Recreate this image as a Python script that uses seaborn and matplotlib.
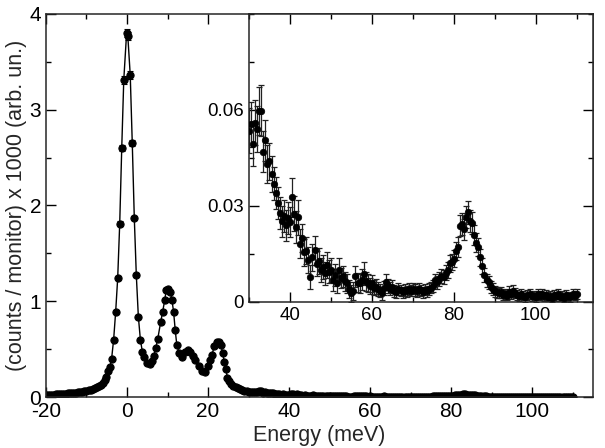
import numpy as np
import pandas as pd
import seaborn as sns
import matplotlib.pyplot as plt
from matplotlib.ticker import MultipleLocator, FixedLocator

# low-energy part of the spectrum (meV, counts/monitor x 1000)
energy_low = [
    -20.0, -19.5, -19.0, -18.5, -18.0, -17.5, -17.0, -16.5, -16.0, -15.5,
    -15.0, -14.5, -14.0, -13.5, -13.0, -12.5, -12.0, -11.5, -11.0, -10.5,
    -10.0, -9.5, -9.0, -8.5, -8.0, -7.5, -7.0, -6.5, -6.0, -5.5,
    -5.1, -4.6, -4.2, -3.8, -3.3, -2.8, -2.3, -1.8, -1.3, -0.8,
    -0.1, 0.2, 0.8, 1.3, 1.8, 2.3, 2.8, 3.3, 3.8, 4.3,
    4.9, 5.6, 6.1, 6.6, 7.1, 7.6, 8.3, 8.8, 9.3, 9.7,
    10.2, 10.7, 11.1, 11.5, 11.9, 12.3, 12.9, 13.6, 14.4, 15.0,
    15.6, 16.2, 16.9, 17.7, 18.5, 19.3, 19.9, 20.5, 21.0, 21.5,
    22.1, 22.6, 23.2, 23.6, 24.0, 24.4, 24.8, 25.2, 25.6, 26.2,
    26.8, 27.4, 28.0, 28.5, 29.0, 29.5,
]
intensity_low = [
    0.020, 0.021, 0.022, 0.024, 0.025, 0.027, 0.028, 0.030, 0.031, 0.033,
    0.035, 0.037, 0.039, 0.041, 0.044, 0.047, 0.050, 0.053, 0.057, 0.061,
    0.066, 0.071, 0.077, 0.084, 0.092, 0.101, 0.112, 0.126, 0.145, 0.175,
    0.21, 0.27, 0.31, 0.40, 0.60, 0.89, 1.24, 1.81, 2.60, 3.31,
    3.80, 3.77, 3.36, 2.65, 1.87, 1.27, 0.84, 0.60, 0.47, 0.42,
    0.36, 0.35, 0.38, 0.43, 0.51, 0.61, 0.78, 0.89, 1.01, 1.12,
    1.13, 1.10, 1.01, 0.89, 0.70, 0.54, 0.46, 0.42, 0.47, 0.49,
    0.47, 0.43, 0.39, 0.32, 0.27, 0.26, 0.32, 0.39, 0.44, 0.53,
    0.57, 0.57, 0.54, 0.46, 0.37, 0.29, 0.195, 0.165, 0.14, 0.12,
    0.10, 0.09, 0.08, 0.073, 0.067, 0.060,
]
error_low = [
    0.004, 0.004, 0.004, 0.004, 0.004, 0.004, 0.004, 0.004, 0.004, 0.004,
    0.004, 0.004, 0.004, 0.004, 0.004, 0.004, 0.004, 0.004, 0.005, 0.005,
    0.005, 0.005, 0.005, 0.005, 0.006, 0.006, 0.006, 0.007, 0.007, 0.008,
    0.008, 0.009, 0.010, 0.011, 0.014, 0.017, 0.020, 0.025, 0.030, 0.040,
    0.045, 0.045, 0.040, 0.032, 0.025, 0.020, 0.016, 0.013, 0.011, 0.011,
    0.010, 0.010, 0.010, 0.011, 0.012, 0.013, 0.015, 0.016, 0.018, 0.020,
    0.020, 0.019, 0.018, 0.016, 0.014, 0.012, 0.011, 0.011, 0.011, 0.012,
    0.011, 0.011, 0.010, 0.010, 0.009, 0.009, 0.010, 0.011, 0.012, 0.013,
    0.014, 0.014, 0.013, 0.012, 0.011, 0.010, 0.008, 0.008, 0.007, 0.007,
    0.006, 0.006, 0.006, 0.006, 0.006, 0.006,
]

# high-energy part, also shown in the inset
energy_high = [
    30.0, 30.5, 31.0, 31.5, 32.0, 32.5, 33.0, 33.5, 34.0, 34.5,
    35.0, 35.5, 36.0, 36.5, 37.0, 37.5, 38.0, 38.5, 39.0, 39.5,
    40.0, 40.5, 41.0, 41.5, 42.0, 42.5, 43.0, 43.5, 44.0, 44.5,
    45.0, 45.5, 46.0, 46.5, 47.0, 47.5, 48.0, 48.5, 49.0, 49.5,
    50.0, 50.5, 51.0, 51.5, 52.0, 52.5, 53.0, 53.5, 54.0, 54.5,
    55.0, 55.5, 56.0, 56.5, 57.0, 57.5, 58.0, 58.5, 59.0, 59.5,
    60.0, 60.5, 61.0, 61.5, 62.0, 62.5, 63.0, 63.5, 64.0, 64.5,
    65.0, 65.5, 66.0, 66.5, 67.0, 67.5, 68.0, 68.5, 69.0, 69.5,
    70.0, 70.5, 71.0, 71.5, 72.0, 72.5, 73.0, 73.5, 74.0, 74.5,
    75.0, 75.5, 76.0, 76.5, 77.0, 77.5, 78.0, 78.5, 79.0, 79.5,
    80.0, 80.5, 81.0, 81.5, 82.0, 82.5, 83.0, 83.5, 84.0, 84.5,
    85.0, 85.5, 86.0, 86.5, 87.0, 87.5, 88.0, 88.5, 89.0, 89.5,
    90.0, 90.5, 91.0, 91.5, 92.0, 92.5, 93.0, 93.5, 94.0, 94.5,
    95.0, 95.5, 96.0, 96.5, 97.0, 97.5, 98.0, 98.5, 99.0, 99.5,
    100.0, 100.5, 101.0, 101.5, 102.0, 102.5, 103.0, 103.5, 104.0, 104.5,
    105.0, 105.5, 106.0, 106.5, 107.0, 107.5, 108.0, 108.5, 109.0, 109.5,
    110.0,
]
intensity_high = [
    0.0535, 0.0555, 0.0493, 0.0560, 0.0540, 0.0597, 0.0598, 0.0470, 0.0505, 0.0431,
    0.0440, 0.0400, 0.0370, 0.0340, 0.0308, 0.0278, 0.0252, 0.0268, 0.0240, 0.0262,
    0.0250, 0.0327, 0.0276, 0.0234, 0.0265, 0.0182, 0.0200, 0.0155, 0.0160, 0.0131,
    0.0079, 0.0140, 0.0162, 0.0120, 0.0128, 0.0100, 0.0110, 0.0090, 0.0116, 0.0095,
    0.0100, 0.0069, 0.0085, 0.0060, 0.0100, 0.0075, 0.0080, 0.0065, 0.0058, 0.0040,
    0.0027, 0.0035, 0.0080, 0.0060, 0.0058, 0.0070, 0.0089, 0.0065, 0.0058, 0.0050,
    0.0058, 0.0045, 0.0048, 0.0040, 0.0035, 0.0027, 0.0045, 0.0062, 0.0050, 0.0042,
    0.0048, 0.0035, 0.0032, 0.0040, 0.0036, 0.0030, 0.0038, 0.0033, 0.0040, 0.0035,
    0.0042, 0.0038, 0.0033, 0.0040, 0.0036, 0.0030, 0.0038, 0.0034, 0.0040, 0.0045,
    0.0050, 0.0069, 0.0062, 0.0072, 0.0080, 0.0078, 0.0092, 0.0100, 0.0121, 0.0125,
    0.0135, 0.0158, 0.0172, 0.0238, 0.0243, 0.0227, 0.0265, 0.0280, 0.0254, 0.0248,
    0.0210, 0.0185, 0.0172, 0.0140, 0.0114, 0.0083, 0.0068, 0.0062, 0.0048, 0.0040,
    0.0034, 0.0030, 0.0028, 0.0030, 0.0022, 0.0026, 0.0020, 0.0032, 0.0025, 0.0035,
    0.0028, 0.0022, 0.0018, 0.0025, 0.0020, 0.0015, 0.0022, 0.0026, 0.0018, 0.0020,
    0.0015, 0.0024, 0.0020, 0.0025, 0.0018, 0.0022, 0.0016, 0.0020, 0.0012, 0.0022,
    0.0018, 0.0024, 0.0016, 0.0020, 0.0013, 0.0022, 0.0018, 0.0015, 0.0024, 0.0020,
    0.0026,
]
error_high = [
    0.0070, 0.0070, 0.0068, 0.0070, 0.0072, 0.0075, 0.0080, 0.0065, 0.0065, 0.0060,
    0.0058, 0.0055, 0.0052, 0.0050, 0.0050, 0.0050, 0.0048, 0.0050, 0.0048, 0.0050,
    0.0048, 0.0062, 0.0055, 0.0050, 0.0055, 0.0045, 0.0045, 0.0042, 0.0042, 0.0040,
    0.0038, 0.0042, 0.0045, 0.0040, 0.0040, 0.0038, 0.0038, 0.0036, 0.0040, 0.0036,
    0.0036, 0.0034, 0.0034, 0.0032, 0.0036, 0.0032, 0.0032, 0.0030, 0.0030, 0.0028,
    0.0026, 0.0028, 0.0034, 0.0030, 0.0030, 0.0032, 0.0036, 0.0030, 0.0028, 0.0026,
    0.0026, 0.0024, 0.0024, 0.0022, 0.0020, 0.0020, 0.0022, 0.0024, 0.0022, 0.0020,
    0.0020, 0.0018, 0.0018, 0.0018, 0.0018, 0.0017, 0.0018, 0.0017, 0.0018, 0.0017,
    0.0018, 0.0018, 0.0017, 0.0018, 0.0017, 0.0016, 0.0017, 0.0017, 0.0018, 0.0018,
    0.0019, 0.0020, 0.0020, 0.0021, 0.0022, 0.0022, 0.0023, 0.0024, 0.0026, 0.0026,
    0.0027, 0.0028, 0.0030, 0.0033, 0.0034, 0.0033, 0.0035, 0.0036, 0.0034, 0.0034,
    0.0032, 0.0030, 0.0029, 0.0027, 0.0025, 0.0022, 0.0021, 0.0020, 0.0019, 0.0018,
    0.0017, 0.0017, 0.0016, 0.0017, 0.0015, 0.0016, 0.0015, 0.0017, 0.0016, 0.0018,
    0.0016, 0.0015, 0.0014, 0.0015, 0.0015, 0.0014, 0.0015, 0.0016, 0.0014, 0.0015,
    0.0014, 0.0016, 0.0015, 0.0016, 0.0014, 0.0015, 0.0014, 0.0015, 0.0013, 0.0015,
    0.0014, 0.0016, 0.0014, 0.0015, 0.0013, 0.0015, 0.0014, 0.0014, 0.0016, 0.0015,
    0.0016,
]

spectrum = pd.DataFrame({
    "energy": energy_low + energy_high,
    "intensity": intensity_low + intensity_high,
    "error": error_low + error_high,
})
high = pd.DataFrame({"energy": energy_high, "intensity": intensity_high, "error": error_high})

sns.set_style("ticks")
plt.rcParams["font.family"] = ["Liberation Sans", "DejaVu Sans"]
plt.rcParams["axes.unicode_minus"] = False
plt.rcParams["axes.linewidth"] = 1.1
for a in ("x", "y"):
    plt.rcParams[f"{a}tick.direction"] = "in"
    plt.rcParams[f"{a}tick.major.size"] = 7
    plt.rcParams[f"{a}tick.minor.size"] = 3.5
    plt.rcParams[f"{a}tick.major.width"] = 1.0
    plt.rcParams[f"{a}tick.minor.width"] = 1.0
plt.rcParams["xtick.top"] = True
plt.rcParams["ytick.right"] = True

fig = plt.figure(figsize=(6.05, 4.48), dpi=100)
ax = fig.add_axes([0.076, 0.1138, 0.904, 0.855])

ax.errorbar(spectrum["energy"], spectrum["intensity"], yerr=spectrum["error"],
            fmt="none", ecolor="black", elinewidth=0.8, capsize=2.5, capthick=0.8)
sns.lineplot(data=spectrum, x="energy", y="intensity", ax=ax, sort=False,
             estimator=None, color="black", linewidth=1.0, marker="o",
             markersize=5.2, markeredgecolor="black")
ax.set_xlim(-20, 115)
ax.set_ylim(0, 4)
ax.xaxis.set_major_locator(FixedLocator([-20, 0, 20, 40, 60, 80, 100]))
ax.xaxis.set_minor_locator(MultipleLocator(10))
ax.yaxis.set_major_locator(MultipleLocator(1))
ax.yaxis.set_minor_locator(MultipleLocator(0.5))
ax.tick_params(which="both", top=True, right=True, labelsize=15, colors="black")
ax.set_xlabel("Energy (meV)", fontsize=15.5, labelpad=3)
ax.set_ylabel("(counts / monitor) x 1000 (arb. un.)", fontsize=15.5, labelpad=2)

ins = fig.add_axes([0.4116, 0.3259, 0.5686, 0.6429])
ins.set_facecolor("white")
ins.errorbar(high["energy"], high["intensity"], yerr=high["error"],
             fmt="none", ecolor="#222222", elinewidth=0.9, capsize=2.5, capthick=0.9)
sns.scatterplot(data=high, x="energy", y="intensity", ax=ins, color="black",
                s=22, edgecolor="black", linewidth=0.5, zorder=3)
ins.set_xlim(30, 114)
ins.set_ylim(0, 0.09)
ins.xaxis.set_major_locator(FixedLocator([40, 60, 80, 100]))
ins.xaxis.set_minor_locator(MultipleLocator(10))
ins.yaxis.set_major_locator(FixedLocator([0, 0.03, 0.06]))
ins.yaxis.set_minor_locator(MultipleLocator(0.015))
ins.set_yticklabels(["0", "0.03", "0.06"])
ins.tick_params(which="both", top=True, right=True, labelsize=13.5, colors="black")
ins.set_xlabel("")
ins.set_ylabel("")

fig.savefig("out.png", dpi=100)
